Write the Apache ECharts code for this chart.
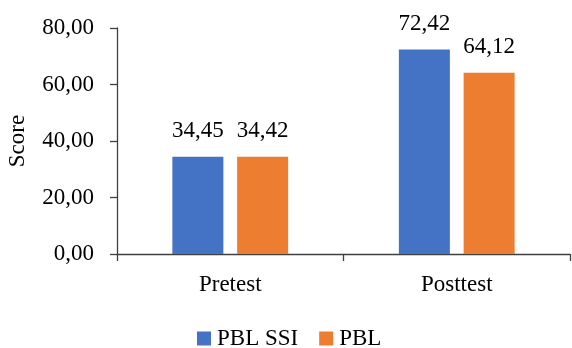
<!DOCTYPE html>
<html>
<head>
<meta charset="utf-8">
<script src="https://cdn.jsdelivr.net/npm/echarts@6/dist/echarts.min.js"></script>
<style>
  html, body { margin: 0; padding: 0; background: #fff; }
  #chart { width: 572px; height: 348px; }
</style>
</head>
<body>
<div id="chart"></div>
<script>
const categories = ['Pretest', 'Posttest'];
const seriesNames = ['PBL SSI', 'PBL'];
const pblSsi = [34.45, 72.42];
const pbl = [34.42, 64.12];
const yTicks = [0, 20, 40, 60, 80];

const FONT = 'Liberation Serif';
const fmt = v => v.toFixed(2).replace('.', ',');

const chart = echarts.init(document.getElementById('chart'), null, { renderer: 'canvas' });

const labelStyle = {
  show: true,
  position: 'top',
  distance: 14,
  fontFamily: FONT,
  fontSize: 23,
  color: '#000',
  formatter: p => fmt(p.value)
};

chart.setOption({
  animation: false,
  backgroundColor: '#fff',
  textStyle: { fontFamily: FONT },
  grid: { left: 117, right: 2, top: 28, bottom: 94, outerBoundsMode: 'none', containLabel: false },
  legend: {
    data: seriesNames,
    left: 197,
    top: 327,
    icon: 'rect',
    itemWidth: 14,
    itemHeight: 14,
    itemGap: 21,
    padding: 0,
    textStyle: { fontFamily: FONT, fontSize: 23, color: '#000', padding: [0, 0, 0, 1] }
  },
  xAxis: {
    type: 'category',
    data: categories,
    axisLine: { lineStyle: { color: '#404040', width: 1.3 } },
    axisTick: { show: true, length: 7, lineStyle: { color: '#404040', width: 1.3 } },
    axisLabel: { fontFamily: FONT, fontSize: 23, color: '#000', margin: 19 }
  },
  yAxis: {
    type: 'value',
    min: yTicks[0],
    max: yTicks[yTicks.length - 1],
    interval: 20,
    name: 'Score',
    nameLocation: 'middle',
    nameGap: 88,
    nameRotate: 90,
    nameTextStyle: { fontFamily: FONT, fontSize: 23, color: '#000' },
    axisLine: { show: true, lineStyle: { color: '#404040', width: 1.3 } },
    axisTick: { show: true, length: 7, lineStyle: { color: '#404040', width: 1.3 } },
    splitLine: { show: false },
    axisLabel: { fontFamily: FONT, fontSize: 23, color: '#000', margin: 23, formatter: v => fmt(v) }
  },
  series: [
    {
      name: seriesNames[0],
      type: 'bar',
      data: pblSsi,
      barWidth: 51,
      barGap: '27%',
      itemStyle: { color: '#4472C4' },
      label: labelStyle
    },
    {
      name: seriesNames[1],
      type: 'bar',
      data: pbl,
      barWidth: 51,
      itemStyle: { color: '#ED7D31' },
      label: labelStyle
    }
  ]
});
</script>
</body>
</html>
